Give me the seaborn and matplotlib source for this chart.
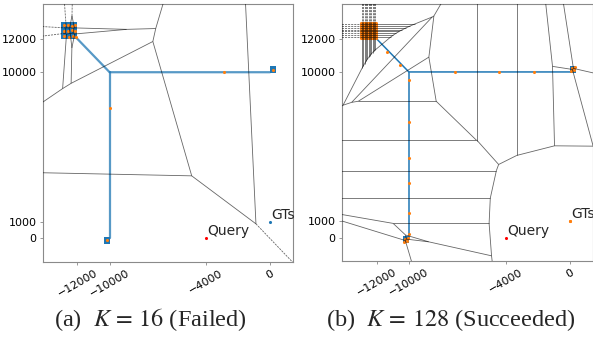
import numpy as np
import matplotlib
matplotlib.use("Agg")
import matplotlib.pyplot as plt
import matplotlib.tri as mtri
from matplotlib.collections import LineCollection
from matplotlib.patches import Rectangle
import seaborn as sns

# ---- data ----
# blue data clusters: centre x, centre y, half size
cluster_x = [-12500, 200, -10160]
cluster_y = [12500, 10150, -120]
cluster_half = [500, 200, 200]

# blue data paths
path1_x = [-12050, -10000, 0]
path1_y = [12050, 10000, 10000]
path2_x = [-10000, -10000]
path2_y = [10000, 0]

query_x, query_y = [-4000], [0]
gt_x, gt_y = [0], [1000]

# K = 16 centroids
k16_x = [-12850, -12580, -12330, -12130, -12870, -12620, -12360, -12140,
         -12830, -12560, -12300, -12110,
         -2860, -10000, 200, -10160]
k16_y = [12840, 12860, 12810, 12850, 12500, 12470, 12520, 12480,
         12160, 12140, 12170, 12130,
         10000, 7860, 10150, -120]

# K = 128 centroids: 108 in the top-left cluster, the rest along the paths
grid_cols = [-12950, -12870, -12790, -12700, -12620, -12540,
             -12460, -12380, -12290, -12210, -12130, -12050]
grid_rows = [12950, 12840, 12730, 12610, 12500, 12390, 12270, 12160, 12050]
k128_out_x = [-11375, -10560, -7125, -4375, -2230,
              -10000, -10000, -10000, -10000, -10000, -10000,
              80, 260, 110, 300,
              -10260, -10090, -10320, -10070,
              0]
k128_out_y = [11220, 10430, 10000, 10000, 10000,
              9510, 6950, 4820, 3270, 1480, 225,
              10060, 10110, 10260, 10290,
              -60, -190, -260, -20,
              1000]
gx, gy = np.meshgrid(grid_cols, grid_rows)
k128_x = list(gx.ravel()) + k128_out_x
k128_y = list(gy.ravel()) + k128_out_y

XLIM = (-14150, 1430)
YLIM = (-1420, 14100)


def voronoi_segments(px, py):
    pts = np.column_stack([px, py]).astype(float)
    tri = mtri.Triangulation(pts[:, 0], pts[:, 1])
    T, N = tri.triangles, tri.neighbors
    a, b, c = pts[T[:, 0]], pts[T[:, 1]], pts[T[:, 2]]
    d = 2 * (a[:, 0] * (b[:, 1] - c[:, 1]) + b[:, 0] * (c[:, 1] - a[:, 1])
             + c[:, 0] * (a[:, 1] - b[:, 1]))
    sa, sb, sc = (a ** 2).sum(1), (b ** 2).sum(1), (c ** 2).sum(1)
    with np.errstate(divide="ignore", invalid="ignore"):
        ux = (sa * (b[:, 1] - c[:, 1]) + sb * (c[:, 1] - a[:, 1]) + sc * (a[:, 1] - b[:, 1])) / d
        uy = (sa * (c[:, 0] - b[:, 0]) + sb * (a[:, 0] - c[:, 0]) + sc * (b[:, 0] - a[:, 0])) / d
    cc = np.column_stack([ux, uy])
    far = np.ptp(pts, axis=0).max() * 3
    finite, infinite = [], []
    for t in range(len(T)):
        if not np.isfinite(cc[t]).all():
            continue
        for j in range(3):
            n = N[t, j]
            if n > t and np.isfinite(cc[n]).all():
                finite.append([cc[t], cc[n]])
            elif n == -1:
                i0, i1, k = T[t, j], T[t, (j + 1) % 3], T[t, (j + 2) % 3]
                tv = pts[i1] - pts[i0]
                tv = tv / np.linalg.norm(tv)
                nv = np.array([-tv[1], tv[0]])
                mid = (pts[i0] + pts[i1]) / 2
                nv = nv * np.sign(np.dot(mid - pts[k], nv))
                infinite.append([cc[t], cc[t] + nv * far])
    return finite, infinite


sns.set_style("white")
plt.rcParams["font.family"] = ["DejaVu Sans"]
plt.rcParams["mathtext.fontset"] = "stix"

fig = plt.figure(figsize=(5.93, 3.39), dpi=100)
ax_a = fig.add_axes([0.0725, 0.227, 0.4216, 0.761])
ax_b = fig.add_axes([0.5767, 0.230, 0.4233, 0.758])

panels = [
    (ax_a, k16_x, k16_y, 0.75, 1.6, "tab:blue",
     r"(a)  $K\,=\,16$ (Failed)", 150),
    (ax_b, k128_x, k128_y, 1.0, 1.1, "tab:orange",
     r"(b)  $K\,=\,128$ (Succeeded)", 451),
]

for ax, cx, cy, line_alpha, line_w, gt_col, caption, cap_x in panels:
    # blue data
    for x0, y0, h in zip(cluster_x, cluster_y, cluster_half):
        ax.add_patch(Rectangle((x0 - h, y0 - h), 2 * h, 2 * h,
                               color="tab:blue", lw=0, zorder=2))
    sns.lineplot(x=path1_x, y=path1_y, sort=False, estimator=None, ax=ax,
                 color="tab:blue", lw=line_w, alpha=line_alpha, zorder=2)
    sns.lineplot(x=path2_x, y=path2_y, sort=False, estimator=None, ax=ax,
                 color="tab:blue", lw=line_w, alpha=line_alpha, zorder=2)

    # centroids
    sns.scatterplot(x=cx, y=cy, ax=ax, color="tab:orange", s=5,
                    linewidth=0, zorder=3)

    # voronoi of centroids
    finite, infinite = voronoi_segments(cx, cy)
    ax.add_collection(LineCollection(finite, colors="k", lw=0.6,
                                     alpha=0.6, zorder=4))
    ax.add_collection(LineCollection(infinite, colors="k", lw=0.6,
                                     alpha=0.6, linestyles=[(0, (2.5, 1.2))],
                                     zorder=4))

    # query and ground truth
    sns.scatterplot(x=query_x, y=query_y, ax=ax, color="red", s=5,
                    linewidth=0, zorder=5)
    sns.scatterplot(x=gt_x, y=gt_y, ax=ax, color=gt_col, s=5,
                    linewidth=0, zorder=5)
    ax.text(query_x[0] + 80, query_y[0], "Query", fontsize=10,
            va="bottom", ha="left", zorder=6)
    ax.text(gt_x[0] + 60, gt_y[0], "GTs", fontsize=10,
            va="bottom", ha="left", zorder=6)

    ax.set_xlim(*XLIM)
    ax.set_ylim(*YLIM)
    ax.set_xticks([-12000, -10000, -4000, 0])
    ax.set_yticks([0, 1000, 10000, 12000])
    ax.tick_params(axis="x", labelrotation=30, labelsize=8)
    ax.tick_params(axis="y", labelsize=8)
    ax.tick_params(bottom=True, left=True, length=2.5, width=0.6,
                   color="#888888", labelcolor="black", pad=2)
    for sp in ax.spines.values():
        sp.set_color("#8a8a8a")
        sp.set_linewidth(0.8)
    ax.set_xlabel("")
    ax.set_ylabel("")

    fig.text(cap_x / 593, 1 - 320 / 339, caption, ha="center", va="center",
             fontsize=17.5, family=["Liberation Serif", "DejaVu Serif"])

fig.savefig("out.png", dpi=100)
